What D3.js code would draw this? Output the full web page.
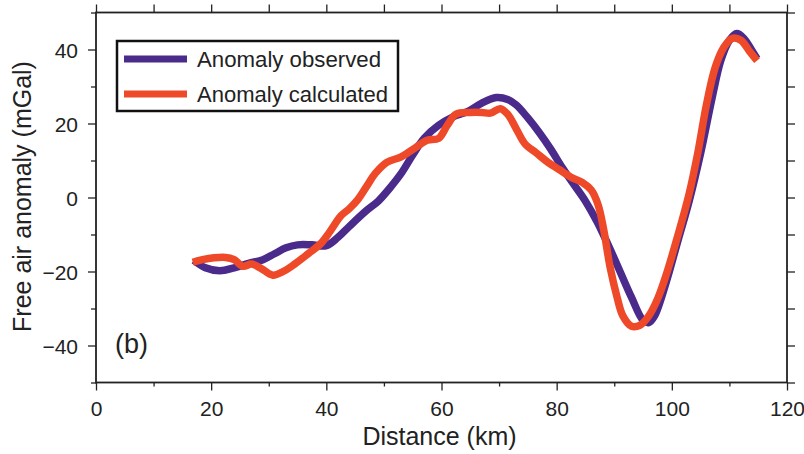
<!DOCTYPE html>
<html lang="en">
<head>
<meta charset="utf-8">
<title>Free air anomaly</title>
<script src="https://d3js.org/d3.v7.min.js"></script>
<style>
  body { margin: 0; background: #fff; }
  svg text { font-family: "Liberation Sans", Arial, sans-serif; fill: #222; }
</style>
</head>
<body>
<svg id="chart" width="804" height="454"></svg>
<script>
// distance (km) and anomaly (mGal)
var obsDist = [17, 19, 21.5, 24, 26.5, 29, 31, 33, 35, 37.5, 40, 42, 44, 47, 49, 51, 53, 55, 57, 59.5,
  62, 64.5, 67, 69.5, 71.5, 73, 75, 77, 79, 81, 83, 85, 87, 89, 91, 93, 95, 96, 97, 99,
  101, 103, 105, 107, 108.5, 110, 111.3, 112.5, 113.8, 114.8];
var obsVal = [-17, -19, -19.8, -19, -17.8, -16.8, -15.2, -13.6, -12.8, -12.8, -13, -10.8, -7.8, -3.5, -1, 2.5, 6.5, 11.5, 16, 19.5,
  21.8, 23.2, 25.5, 27, 26.5, 25, 21.5, 17.5, 13, 8, 3.5, -1, -6.5, -13, -20, -27, -33.2, -33.8, -32, -23,
  -12, -1, 12, 27, 37, 42.5, 44.3, 43, 40, 37.5];

var calDist = [16.8, 18.5, 20.5, 22.5, 24, 25.5, 27, 28.5, 30.7, 32.5, 34.5, 37, 39, 40.5, 42.5, 44, 45.5, 47, 48.5, 50.5,
  53, 55.5, 57.5, 59.5, 61, 62.5, 65, 67, 68.5, 70.2, 71.5, 73, 74.5, 76.5, 78.5, 80.5, 82.5, 84.5, 86, 87.2,
  88.2, 89.3, 90.5, 91.5, 93, 94.5, 96, 97.5, 99, 101, 103, 104.5, 106, 107.5, 109, 110.5, 112, 113.5, 114.8];
var calVal = [-17.5, -16.8, -16.3, -16.2, -16.8, -18.6, -18, -19, -21, -20, -18, -15, -12.5, -9.5, -5, -3, -0.5, 3, 6.5, 9.5,
  11, 13.5, 15.5, 16, 19.5, 22.5, 23, 23, 22.8, 24, 22.5, 18.5, 14.5, 12, 9.5, 7.5, 5.5, 4, 2, -2,
  -9, -19, -27, -32, -34.8, -34.5, -32, -27.5, -21, -10.5, 1, 12, 25, 35, 40.5, 43, 42.5, 39.5, 37];

var seriesNames = ["Anomaly observed", "Anomaly calculated"];
var seriesColors = ["#4a2a8a", "#ee4a2a"];

var xMajor = [0, 20, 40, 60, 80, 100, 120];
var xMinor = [10, 30, 50, 70, 90, 110];
var yMajor = [-40, -20, 0, 20, 40];
var yMinor = [-50, -30, -10, 10, 30, 50];

var L = 96, T = 12.5, R = 787, B = 382.5;

var x = d3.scaleLinear().domain([0, 120]).range([L, R]);
var y = d3.scaleLinear().domain([-50, 50]).range([B, T]);

var svg = d3.select("#chart");

function axisGroup(axisFn, scale, ticks, size, labels, tx, ty) {
  var a = axisFn(scale).tickValues(ticks).tickSize(size).tickPadding(6);
  if (!labels) a.tickFormat("");
  else a.tickFormat(function(d) { return d < 0 ? "\u2212" + Math.abs(d) : d; });
  var g = svg.append("g").attr("transform", "translate(" + tx + "," + ty + ")").call(a);
  g.select(".domain").remove();
  g.selectAll("line").attr("stroke", "#222").attr("stroke-width", 1.3);
  g.selectAll("text").style("font-size", "21px").attr("fill", "#222");
  return g;
}

// bottom
axisGroup(d3.axisBottom, x, xMajor, 8, true, 0, B).selectAll("text").attr("dy", "0.95em");
axisGroup(d3.axisBottom, x, xMinor, 4, false, 0, B);
// top
axisGroup(d3.axisTop, x, xMajor.concat(xMinor), 8, false, 0, T);
// left
axisGroup(d3.axisLeft, y, yMajor, 8, true, L, 0).selectAll("text").attr("dy", "0.36em").attr("x", -18);
axisGroup(d3.axisLeft, y, yMinor, 5, false, L, 0);
// right
axisGroup(d3.axisRight, y, yMajor.concat(yMinor), 8, false, R, 0);

// frame
svg.append("rect")
  .attr("x", L).attr("y", T).attr("width", R - L).attr("height", B - T)
  .attr("fill", "none").attr("stroke", "#222").attr("stroke-width", 1.8);

var line = d3.line()
  .x(function(d) { return x(d[0]); })
  .y(function(d) { return y(d[1]); })
  .curve(d3.curveCatmullRom.alpha(0.5));

var obs = d3.zip(obsDist, obsVal);
var cal = d3.zip(calDist, calVal);

svg.append("path").datum(obs).attr("d", line)
  .attr("fill", "none").attr("stroke", seriesColors[0]).attr("stroke-width", 7.5)
  .attr("stroke-linejoin", "round");
svg.append("path").datum(cal).attr("d", line)
  .attr("fill", "none").attr("stroke", seriesColors[1]).attr("stroke-width", 7.5)
  .attr("stroke-linejoin", "round");

// legend
var leg = svg.append("g");
leg.append("rect").attr("x", 117).attr("y", 41).attr("width", 281).attr("height", 70)
  .attr("fill", "#fff").attr("stroke", "#111").attr("stroke-width", 2.5);
seriesNames.forEach(function(name, i) {
  var ly = 59 + i * 35;
  leg.append("line").attr("x1", 124).attr("x2", 187).attr("y1", ly).attr("y2", ly)
    .attr("stroke", seriesColors[i]).attr("stroke-width", 7);
  leg.append("text").attr("x", 197).attr("y", ly + 8).style("font-size", "21.5px")
    .attr("textLength", i === 0 ? 184 : 191).attr("lengthAdjust", "spacingAndGlyphs").text(name);
});

// axis titles
svg.append("text").attr("x", (L + R) / 2 - 2).attr("y", 445)
  .attr("text-anchor", "middle").style("font-size", "25px").text("Distance (km)");
svg.append("text").attr("transform", "translate(31," + (y(0) - 1) + ") rotate(-90)")
  .attr("text-anchor", "middle").style("font-size", "25px").text("Free air anomaly (mGal)");

svg.append("text").attr("x", 115).attr("y", 353).style("font-size", "27px").text("(b)");
</script>
</body>
</html>
